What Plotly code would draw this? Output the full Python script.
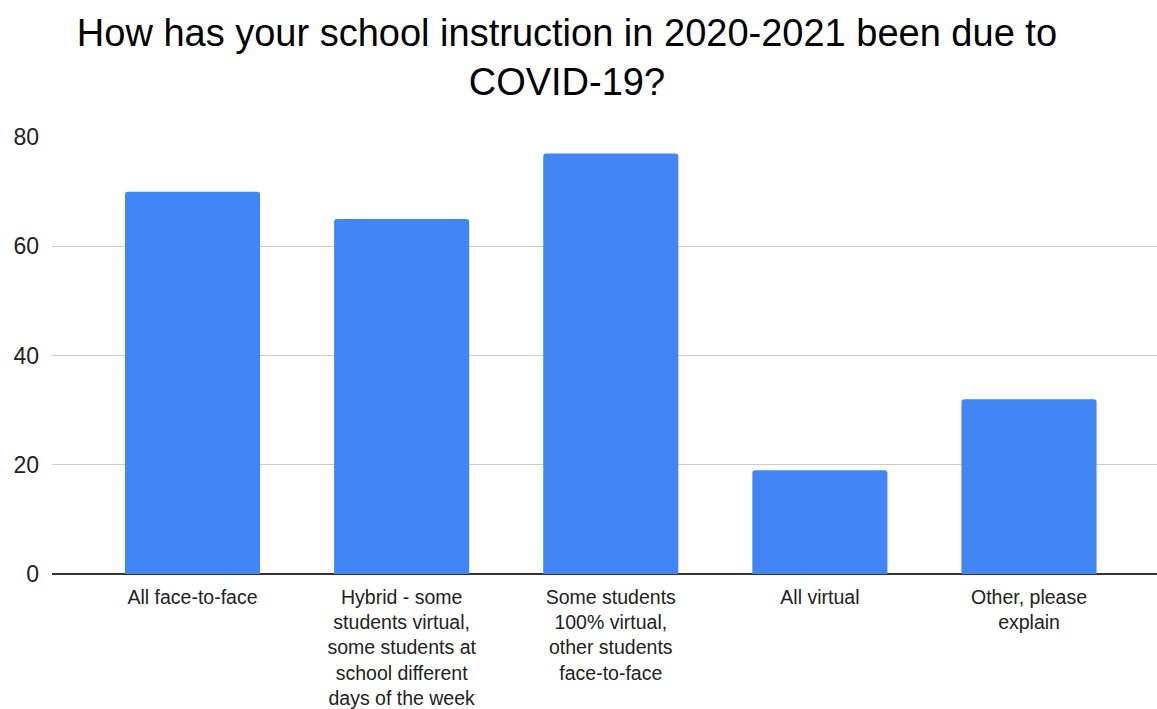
import plotly.graph_objects as go

categories = [
    "All face-to-face",
    "Hybrid - some<br>students virtual,<br>some students at<br>school different<br>days of the week",
    "Some students<br>100% virtual,<br>other students<br>face-to-face",
    "All virtual",
    "Other, please<br>explain",
]
values = [70, 65, 77, 19, 32]
y_ticks = [0, 20, 40, 60, 80]

fig = go.Figure()
fig.add_trace(go.Bar(
    x=list(range(len(categories))),
    y=values,
    width=0.646,
    marker=dict(color="#4285F4", line=dict(width=0), cornerradius=3),
    hoverinfo="y",
))

fig.update_layout(
    width=1157, height=709,
    margin=dict(l=52, r=0, t=137, b=135, autoexpand=False),
    paper_bgcolor="white", plot_bgcolor="white",
    font=dict(family="Liberation Sans, Arial, sans-serif", color="#222222"),
    title=dict(
        text="How has your school instruction in 2020-2021 been due to<br>COVID-19?",
        x=0.49, xanchor="center", xref="container",
        y=0.935, yanchor="top", yref="container",
        font=dict(size=38, color="#000000"),
    ),
    showlegend=False,
    bargap=0.354,
)
fig.update_xaxes(
    tickmode="array",
    tickvals=list(range(len(categories))),
    ticktext=categories,
    range=[-0.672, 4.612],
    showgrid=False, zeroline=False,
    showline=False, ticks="",
    tickfont=dict(size=19.5, color="#222222"),
    ticklabelstandoff=9,
    automargin=False,
)
fig.update_yaxes(
    range=[0, 80],
    tickmode="array", tickvals=y_ticks,
    showgrid=True, gridcolor="#cccccc", gridwidth=1,
    zeroline=True, zerolinecolor="#333333", zerolinewidth=2,
    showline=False, ticks="",
    tickfont=dict(size=23, color="#222222"),
    ticklabelstandoff=12,
    automargin=False,
)

fig.write_html("out.html")
